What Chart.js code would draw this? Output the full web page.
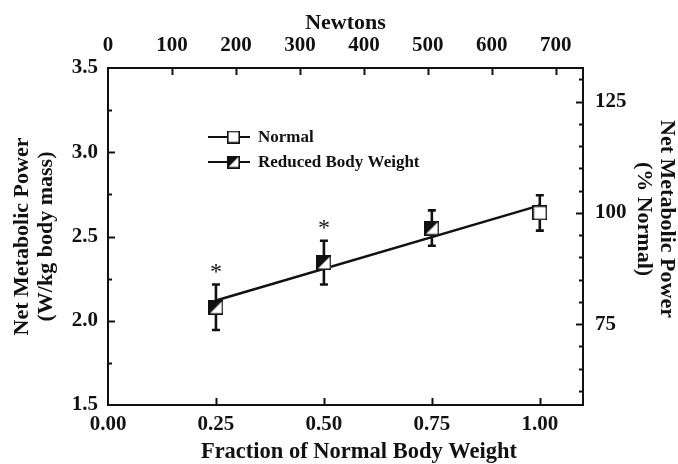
<!DOCTYPE html>
<html><head><meta charset="utf-8">
<script src="https://cdn.jsdelivr.net/npm/chart.js@4/dist/chart.umd.min.js"></script>
<style>html,body{margin:0;padding:0;background:#fff}#wrap{width:678px;height:464px}</style>
</head><body><div id="wrap"><canvas id="c" width="678" height="464"></canvas></div>
<script>
// ---- data ----
const reducedFractions = [0.25, 0.50, 0.75];
const reducedPower     = [2.08, 2.345, 2.55];
const reducedSD        = [0.135, 0.13, 0.105];
const normalFractions  = [1.00];
const normalPower      = [2.64];
const normalSD         = [0.105];
const fitFractions     = [0.25, 1.00];
const fitPower         = [2.12, 2.685];
const significantFractions = [0.25, 0.50];

const bottomTicks = [0, 0.25, 0.5, 0.75, 1.0];
const topTicks    = [0, 100, 200, 300, 400, 500, 600, 700];
const leftTicks   = [1.5, 2.0, 2.5, 3.0, 3.5];
const rightTicks  = [75, 100, 125];
const newtonsPerFraction = 675;
const xMin = 0, xMax = 1.1;
const yMin = 1.5, yMax = 3.5;

const labelNormal  = 'Normal';
const labelReduced = 'Reduced Body Weight';

// ---- styling ----
const FAMILY = "'Liberation Serif','Times New Roman',serif";
const INK = '#111';
const tickFont  = {family: FAMILY, size: 21, weight: 'bold'};
const titleFont = {family: FAMILY, size: 22, weight: 'bold', lineHeight: 1.08};

function makeMarker(size, split) {
  const c = document.createElement('canvas');
  c.width = size; c.height = size;
  const g = c.getContext('2d');
  g.fillStyle = '#fff'; g.fillRect(0, 0, size, size);
  if (split) {
    g.fillStyle = INK;
    g.beginPath(); g.moveTo(0, 0); g.lineTo(size, 0); g.lineTo(0, size); g.closePath(); g.fill();
  }
  g.strokeStyle = INK; g.lineWidth = 1.6;
  g.strokeRect(0.8, 0.8, size - 1.6, size - 1.6);
  return c;
}
const normalMarker  = makeMarker(15, false);
const reducedMarker = makeMarker(15, true);
const normalLegend  = makeMarker(13, false);
const reducedLegend = makeMarker(13, true);

const zip = (xs, ys) => xs.map((x, i) => ({x, y: ys[i]}));
const refPower = normalPower[0];

const errorBars = {
  id: 'errorBars',
  beforeDatasetsDraw(chart) {
    const {ctx, scales: {x, y}} = chart;
    ctx.save(); ctx.strokeStyle = INK; ctx.lineWidth = 2.6; ctx.lineCap = 'butt';
    chart.data.datasets.forEach(ds => {
      if (!ds.errors) return;
      ds.data.forEach((p, i) => {
        const px = x.getPixelForValue(p.x);
        const lo = y.getPixelForValue(p.y - ds.errors[i]);
        const hi = y.getPixelForValue(p.y + ds.errors[i]);
        ctx.beginPath();
        ctx.moveTo(px, lo); ctx.lineTo(px, hi);
        ctx.moveTo(px - 4, lo); ctx.lineTo(px + 4, lo);
        ctx.moveTo(px - 4, hi); ctx.lineTo(px + 4, hi);
        ctx.stroke();
      });
    });
    ctx.restore();
  }
};

function drawTicks(ctx, scale, values, len) {
  values.forEach(v => {
    const p = Math.round(scale.getPixelForValue(v)) + 0.5;
    ctx.beginPath();
    if (scale.position === 'left')   { ctx.moveTo(scale.right, p); ctx.lineTo(scale.right + len, p); }
    if (scale.position === 'right')  { ctx.moveTo(scale.left, p);  ctx.lineTo(scale.left - len, p); }
    if (scale.position === 'bottom') { ctx.moveTo(p, scale.top);   ctx.lineTo(p, scale.top - len); }
    if (scale.position === 'top')    { ctx.moveTo(p, scale.bottom); ctx.lineTo(p, scale.bottom + len); }
    ctx.stroke();
  });
}

const decorations = {
  id: 'decorations',
  afterDatasetsDraw(chart) {
    const {ctx, scales} = chart;
    // asterisks above significant points
    const ds = chart.data.datasets[1];
    ctx.save();
    ctx.fillStyle = INK;
    ctx.font = `24px ${FAMILY}`;
    ctx.textAlign = 'center'; ctx.textBaseline = 'alphabetic';
    significantFractions.forEach(f => {
      const i = ds.data.findIndex(p => p.x === f);
      const p = ds.data[i];
      const px = scales.x.getPixelForValue(p.x);
      const hi = scales.y.getPixelForValue(p.y + ds.errors[i]);
      ctx.fillText('*', px, hi - 6);
    });
    ctx.restore();
  },
  afterDraw(chart) {
    const {ctx, scales} = chart;
    ctx.save();
    ctx.strokeStyle = INK; ctx.lineWidth = 2;
    drawTicks(ctx, scales.x, bottomTicks.slice(1), 7);
    drawTicks(ctx, scales.x2, topTicks.slice(1), 7);
    drawTicks(ctx, scales.y, leftTicks.slice(1, -1), 7);
    const leftMinor = [];
    for (let i = 0; i < leftTicks.length - 1; i++) leftMinor.push((leftTicks[i] + leftTicks[i + 1]) / 2);
    drawTicks(ctx, scales.y, leftMinor, 4);
    drawTicks(ctx, scales.y2, rightTicks, 7);
    const rightMinor = [];
    for (let v = 60; v <= 130; v += 5) if (!rightTicks.includes(v)) rightMinor.push(v);
    drawTicks(ctx, scales.y2, rightMinor, 4);

    // legend (inside the plot)
    const items = [
      {label: labelNormal, img: normalLegend, y: 137},
      {label: labelReduced, img: reducedLegend, y: 162}
    ];
    ctx.lineWidth = 2.2;
    ctx.font = `bold 17px ${FAMILY}`;
    ctx.fillStyle = INK; ctx.textAlign = 'left'; ctx.textBaseline = 'middle';
    items.forEach(it => {
      ctx.beginPath(); ctx.moveTo(208, it.y); ctx.lineTo(250, it.y); ctx.stroke();
      ctx.drawImage(it.img, 233.5 - 6.5, it.y - 6.5, 13, 13);
      ctx.fillText(it.label, 258, it.y + 1);
    });

    // bottom axis title (offset right of centre, as in the reference)
    ctx.font = `bold 22.5px ${FAMILY}`;
    ctx.textAlign = 'center'; ctx.textBaseline = 'middle';
    ctx.fillText('Fraction of Normal Body Weight', 359, 452);

    // right axis title
    ctx.font = `bold 22px ${FAMILY}`;
    ctx.translate(667, 219);
    ctx.rotate(Math.PI / 2);
    ctx.fillText('Net Metabolic Power', 0, 0);
    ctx.fillText('(% Normal)', 0, 23.8);
    ctx.restore();
  }
};

const borderOpt = {display: true, color: INK, width: 2};
const gridOpt = {display: false, drawTicks: false};

new Chart(document.getElementById('c'), {
  type: 'scatter',
  data: {
    datasets: [
      {label: labelNormal, data: zip(normalFractions, normalPower), errors: normalSD,
       pointStyle: normalMarker, pointRadius: 8, order: 0},
      {label: labelReduced, data: zip(reducedFractions, reducedPower), errors: reducedSD,
       pointStyle: reducedMarker, pointRadius: 8, order: 0},
      {label: 'fit', data: zip(fitFractions, fitPower), showLine: true, pointRadius: 0,
       borderColor: INK, borderWidth: 2.5, order: 2}
    ]
  },
  options: {
    responsive: false, animation: false, devicePixelRatio: 1,
    layout: {padding: 0},
    plugins: {legend: {display: false}, tooltip: {enabled: false}},
    scales: {
      x: {
        type: 'linear', position: 'bottom', min: xMin, max: xMax,
        afterBuildTicks: s => { s.ticks = bottomTicks.map(v => ({value: v})); },
        afterFit: s => { s.height = 59; },
        ticks: {font: tickFont, color: INK, padding: 7, maxRotation: 0, autoSkip: false,
                callback: v => v.toFixed(2)},
        grid: gridOpt, border: borderOpt
      },
      x2: {
        type: 'linear', position: 'top', min: xMin * newtonsPerFraction, max: xMax * newtonsPerFraction,
        afterBuildTicks: s => { s.ticks = topTicks.map(v => ({value: v})); },
        afterFit: s => { s.height = 68; },
        ticks: {font: tickFont, color: INK, padding: 10, maxRotation: 0, autoSkip: false,
                callback: v => String(v)},
        grid: gridOpt, border: borderOpt,
        title: {display: true, text: 'Newtons', font: titleFont, color: INK,
                padding: {top: 11, bottom: 0}}
      },
      y: {
        type: 'linear', position: 'left', min: yMin, max: yMax,
        afterBuildTicks: s => { s.ticks = leftTicks.map(v => ({value: v})); },
        afterFit: s => { s.width = 108; },
        ticks: {font: tickFont, color: INK, padding: 10, autoSkip: false,
                callback: v => v.toFixed(1)},
        grid: gridOpt, border: borderOpt,
        title: {display: true, text: ['Net Metabolic Power', '(W/kg body mass)'], font: titleFont, color: INK,
                padding: {top: 10.5, bottom: 0}}
      },
      y2: {
        type: 'linear', position: 'right', min: yMin / refPower * 100, max: yMax / refPower * 100,
        afterBuildTicks: s => { s.ticks = rightTicks.map(v => ({value: v})); },
        afterFit: s => { s.width = 95; },
        ticks: {font: tickFont, color: INK, padding: 12, autoSkip: false,
                callback: v => String(v)},
        grid: gridOpt, border: borderOpt
      }
    }
  },
  plugins: [errorBars, decorations]
});
</script>
</body></html>
